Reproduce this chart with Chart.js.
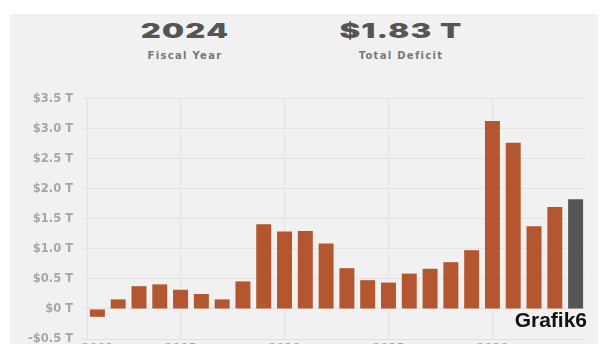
<!DOCTYPE html>
<html>
<head>
<meta charset="utf-8">
<script src="https://cdn.jsdelivr.net/npm/chart.js@4"></script>
<style>
  html, body { margin: 0; padding: 0; width: 604px; height: 344px; overflow: hidden; background: #ffffff; }
  .panel { position: absolute; left: 10px; top: 14px; width: 588px; height: 340px; background: #f1f1f1; }
  .stat { position: absolute; top: 6px; width: 200px; text-align: center; }
  .stat .big { font-family: Inter, "DejaVu Sans", sans-serif; font-size: 20px; font-weight: 900; line-height: 23px; color: #555555; transform: scaleX(1.55); letter-spacing: 0.8px; }
  .stat .small { font-family: "DejaVu Sans", sans-serif; font-size: 10px; font-weight: 700; line-height: 12px; color: #787878; letter-spacing: 1.3px; margin-top: 7px; }
  #chart { position: absolute; left: 0; top: 82px; }
  .tag { position: absolute; right: 17px; top: 308px; font-family: "Liberation Sans", Arial, sans-serif; font-weight: 700; font-size: 21px; line-height: 24px; color: #111; }
</style>
</head>
<body>
<div class="panel">
  <div class="stat" style="left:75px"><div class="big">2024</div><div class="small">Fiscal Year</div></div>
  <div class="stat" style="left:291px"><div class="big">$1.83 T</div><div class="small">Total Deficit</div></div>
</div>
<canvas id="chart" width="600" height="277"></canvas>
<div class="tag">Grafik6</div>
<script>
// fiscal years and yearly deficit, trillions of dollars
const years = [2001, 2002, 2003, 2004, 2005, 2006, 2007, 2008, 2009, 2010, 2011, 2012,
  2013, 2014, 2015, 2016, 2017, 2018, 2019, 2020, 2021, 2022, 2023, 2024];
const deficit = [-0.13, 0.16, 0.38, 0.41, 0.32, 0.25, 0.16, 0.46, 1.41, 1.29, 1.30, 1.09,
  0.68, 0.48, 0.44, 0.59, 0.67, 0.78, 0.98, 3.13, 2.77, 1.38, 1.70, 1.83];
const yTicks = [-0.5, 0, 0.5, 1.0, 1.5, 2.0, 2.5, 3.0, 3.5];

const barColors = years.map(y => (y === 2024 ? "#555555" : "#b4562f"));
const gridColor = "#e2e2e2";
const tickFont = { family: "'DejaVu Sans', sans-serif", size: 11.5, weight: "bold" };

function money(v) {
    if (v === 0) return "$0 T";
    return (v < 0 ? "-" : "") + "$" + Math.abs(v).toFixed(1) + " T";
}

const chartCanvas = document.querySelector("#chart");
const chart = new Chart(chartCanvas, {
    type: "bar",
    data: {
        labels: years.map(String),
        datasets: [
            {
                label: "Deficit",
                data: deficit,
                backgroundColor: barColors,
                borderWidth: 0,
                barPercentage: 0.8,
                categoryPercentage: 0.9
            }
        ]
    },
    options: {
        responsive: false,
        animation: false,
        devicePixelRatio: 1,
        layout: { padding: { top: 6, right: 14, left: 0, bottom: 0 } },
        plugins: {
            legend: { display: false },
            tooltip: { enabled: false }
        },
        scales: {
            x: {
                afterFit(s) { s.height = 20; },
                grid: {
                    offset: false,
                    drawTicks: false,
                    color: ctx => (years[ctx.index] % 5 === 0 ? gridColor : "rgba(0,0,0,0)")
                },
                border: { display: false },
                ticks: {
                    autoSkip: false,
                    maxRotation: 0,
                    padding: 3,
                    color: "#a6a6a6",
                    font: tickFont,
                    callback: (v, i) => (years[i] % 5 === 0 || i === 0 ? String(years[i]) : "")
                }
            },
            y: {
                min: -0.5,
                max: 3.5,
                afterFit(s) { s.width = 87; },
                afterBuildTicks(s) { s.ticks = yTicks.map(v => ({ value: v })); },
                grid: { color: gridColor, tickLength: 4 },
                border: { color: gridColor },
                ticks: {
                    padding: 10,
                    color: "#a6a6a6",
                    font: tickFont,
                    callback: v => money(v)
                }
            }
        }
    }
});
</script>
</body>
</html>
